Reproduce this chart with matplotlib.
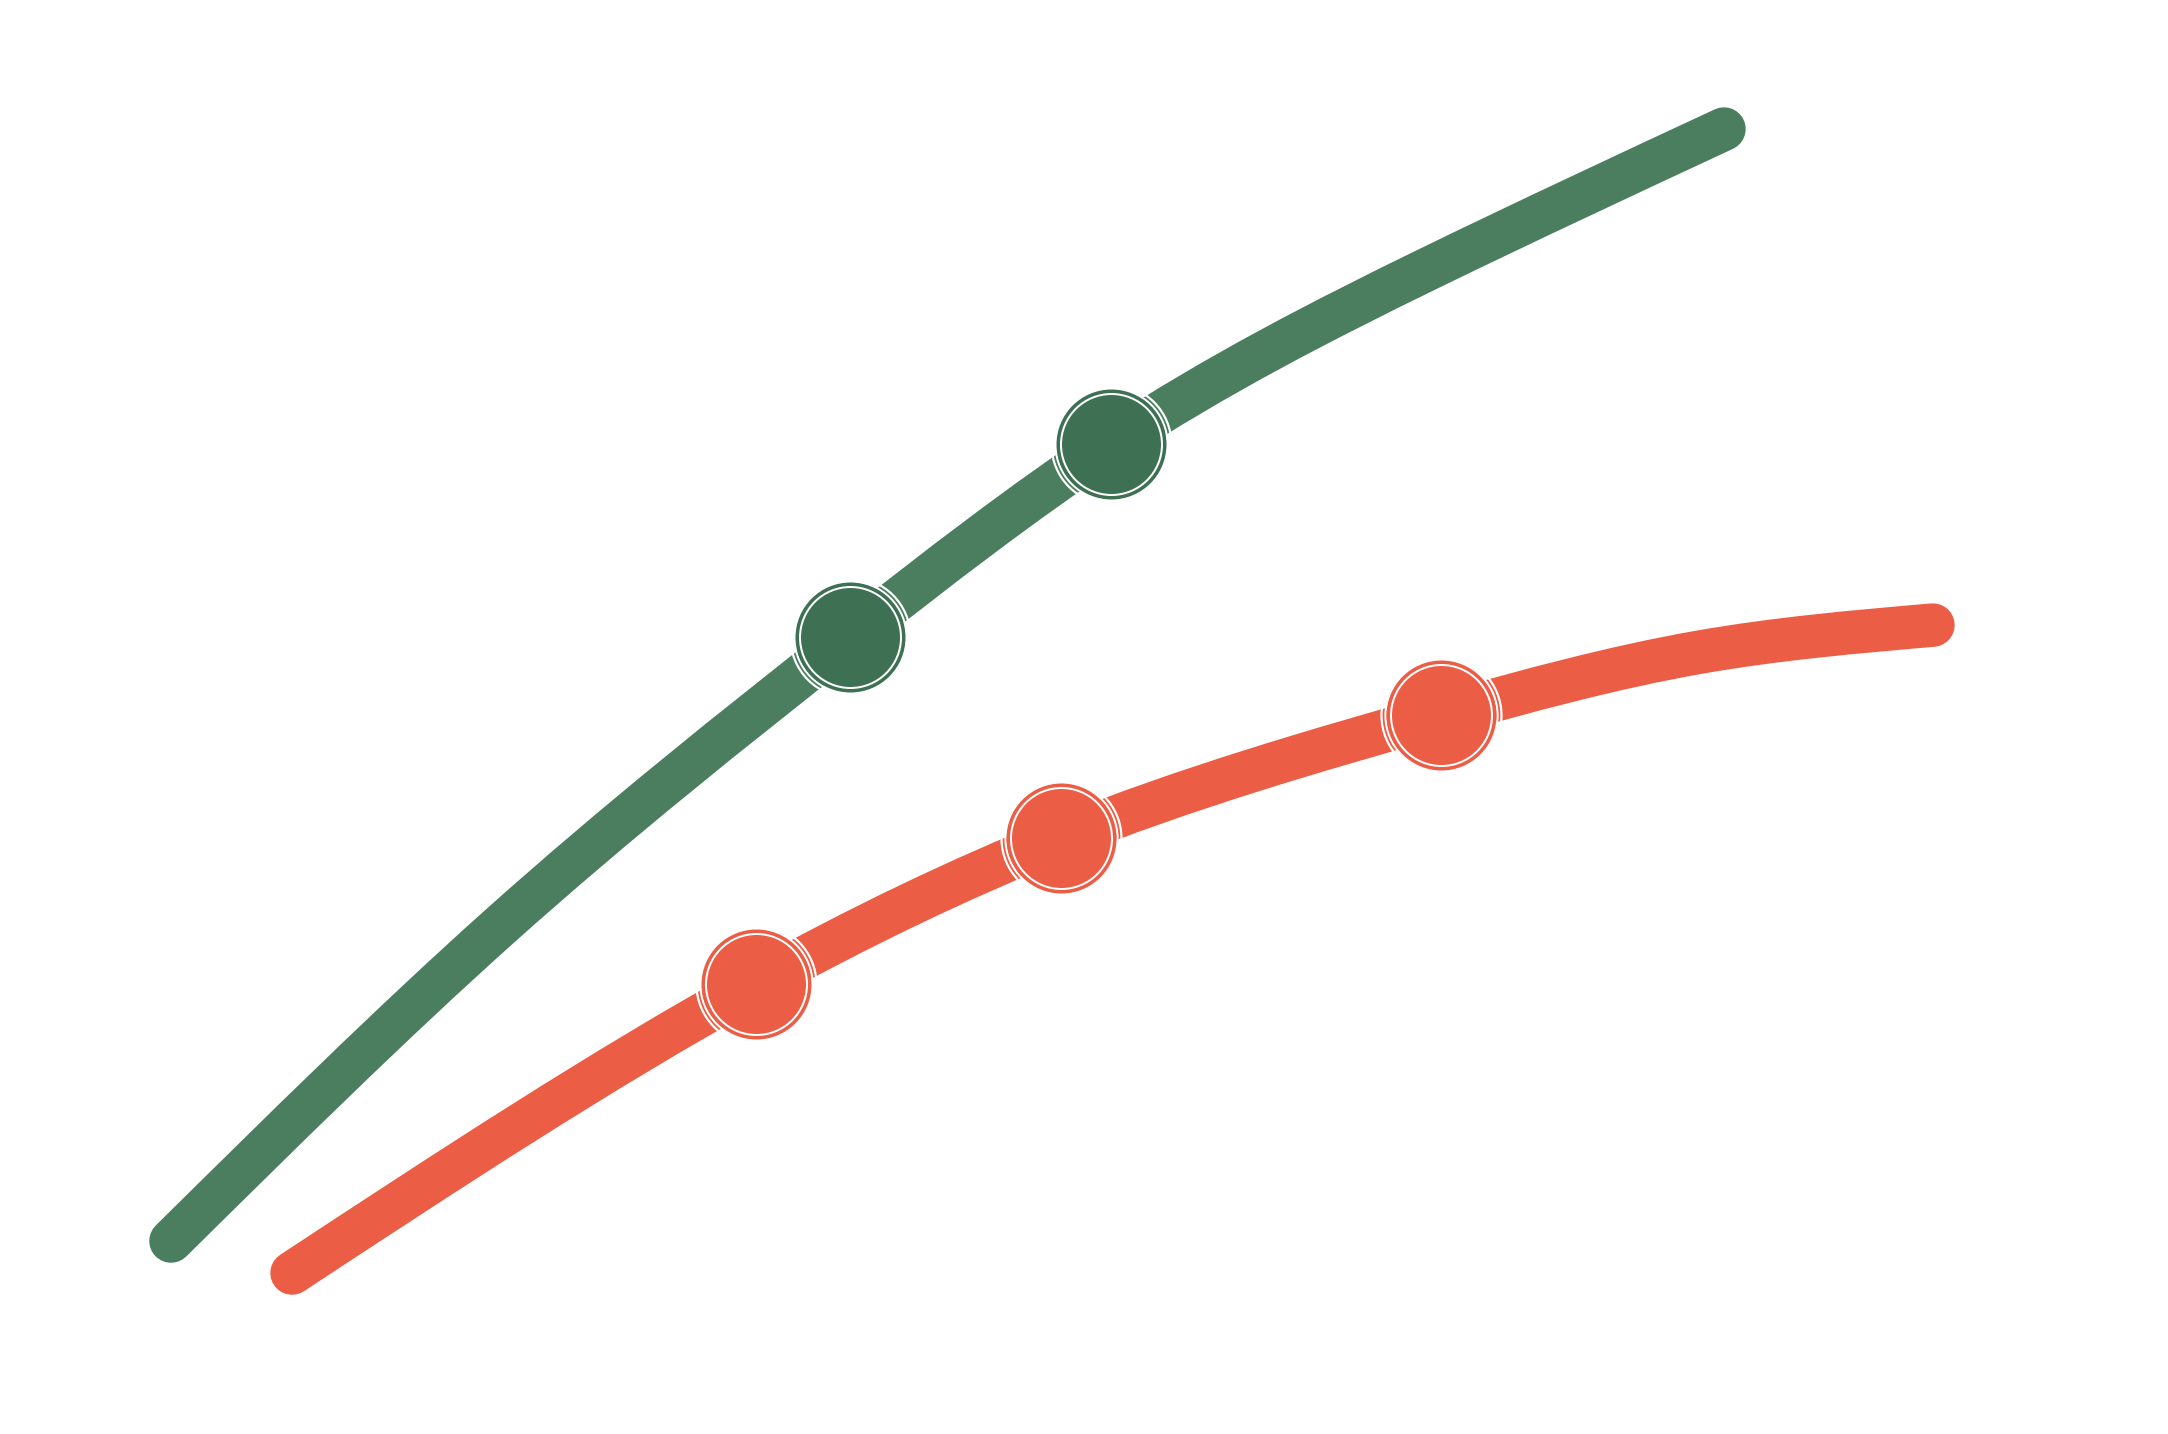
"""
二本の太い曲線と白い縁取りのマーカー
"""

import matplotlib

matplotlib.use("Agg")
import matplotlib.pyplot as plt
import numpy as np
from matplotlib.patches import PathPatch
from matplotlib.path import Path

# データ（目盛なしの相対スケール 0〜100）
green_x = [0.0, 18.67, 38.54, 53.35, 71.45, 88.14]
green_y = [2.80, 30.33, 55.59, 72.47, 87.85, 100.0]
green_marked = [2, 3]

red_x = [6.87, 33.20, 50.51, 72.08, 86.78, 100.0]
red_y = [0.0, 25.26, 38.02, 48.78, 54.28, 56.64]
red_marked = [1, 2, 3]

GREEN_LINE = "#4b7e5f"
GREEN_DOT = "#3e7153"
RED_LINE = "#ec5d45"
RED_DOT = "#ec5d45"

DPI = 100
PX = 72 / DPI  # 1px をポイントに


def spline_path(xs, ys):
    """自然スプラインの傾きからベジェ曲線のパスを作る"""
    x = np.asarray(xs, float)
    y = np.asarray(ys, float)
    n = len(x)
    h = np.diff(x)
    s = np.diff(y) / h

    # 二階微分 M を解く（両端 0）
    A = np.zeros((n, n))
    b = np.zeros(n)
    A[0, 0] = A[-1, -1] = 1
    for i in range(1, n - 1):
        A[i, i - 1] = h[i - 1]
        A[i, i] = 2 * (h[i - 1] + h[i])
        A[i, i + 1] = h[i]
        b[i] = 6 * (s[i] - s[i - 1])
    M = np.linalg.solve(A, b)

    t = np.zeros(n)
    for i in range(n - 1):
        t[i] = s[i] - h[i] * (2 * M[i] + M[i + 1]) / 6
    t[-1] = s[-1] + h[-1] * (M[-2] + 2 * M[-1]) / 6

    verts = [(x[0], y[0])]
    codes = [Path.MOVETO]
    for i in range(n - 1):
        dx = h[i] / 3
        verts += [(x[i] + dx, y[i] + dx * t[i]), (x[i + 1] - dx, y[i + 1] - dx * t[i + 1]), (x[i + 1], y[i + 1])]
        codes += [Path.CURVE4] * 3
    return Path(verts, codes)


def draw_series(ax, xs, ys, marked, line_color, dot_color):
    path = spline_path(xs, ys)
    ax.add_patch(
        PathPatch(
            path,
            facecolor="none",
            edgecolor=line_color,
            linewidth=43.5 * PX,
            capstyle="round",
            joinstyle="round",
            zorder=2,
        )
    )

    mx = [xs[i] for i in marked]
    my = [ys[i] for i in marked]

    # 線を切る白いリング（二重）
    for r in (56, 60):
        ax.plot(mx, my, ls="none", marker="o", ms=2 * r * PX, mfc="none", mec="white", mew=2.2 * PX, zorder=3)

    # マーカー本体
    ax.plot(mx, my, ls="none", marker="o", ms=2 * 53.25 * PX, mfc=dot_color, mec=dot_color, mew=3.5 * PX, zorder=4)
    # 内側の白いリング
    ax.plot(mx, my, ls="none", marker="o", ms=2 * 50.5 * PX, mfc="none", mec="white", mew=2 * PX, zorder=5)


fig = plt.figure(figsize=(21.68, 14.34), dpi=DPI)
ax = fig.add_axes([0, 0, 1, 1])
ax.set_xlim(-9.705, 113.34)
ax.set_ylim(-14.07, 111.28)
ax.axis("off")

draw_series(ax, green_x, green_y, green_marked, GREEN_LINE, GREEN_DOT)
draw_series(ax, red_x, red_y, red_marked, RED_LINE, RED_DOT)

fig.savefig("out.png", dpi=DPI, facecolor="white")
